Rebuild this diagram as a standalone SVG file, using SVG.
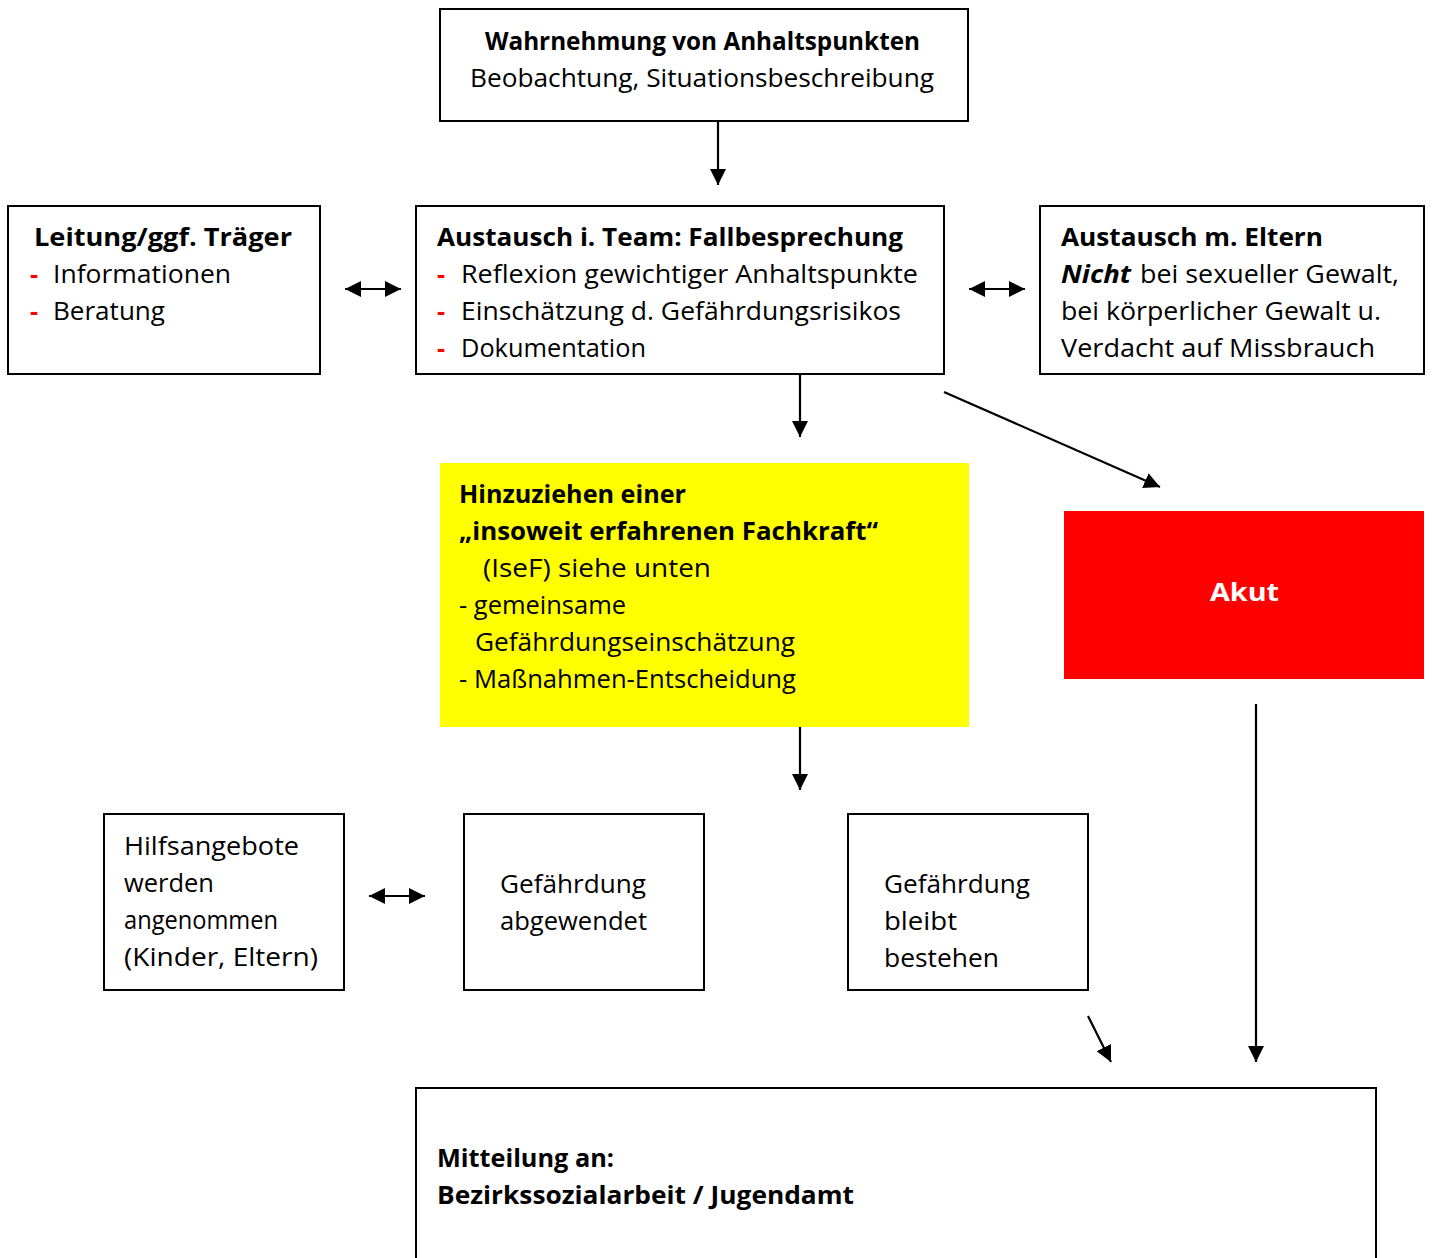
<svg xmlns="http://www.w3.org/2000/svg" width="1433" height="1258" viewBox="0 0 1433 1258">
<style>
.box{fill:#fff;stroke:#000;stroke-width:2}
.t{font-family:"Open Sans","DejaVu Sans",sans-serif;font-size:25px;fill:#000}
.b{font-weight:bold}
.i{font-style:italic}
.r{fill:#ff0000;font-weight:bold}
.w{fill:#fff;font-weight:bold}
.c{stroke:#000;stroke-width:2.2;fill:none;marker-end:url(#ah)}
.d{marker-start:url(#ah)}
</style>
<defs>
<marker id="ah" markerUnits="userSpaceOnUse" markerWidth="18" markerHeight="16" refX="16" refY="8" orient="auto-start-reverse">
<path d="M0,0 L16,8 L0,16 Z" fill="#000"/>
</marker>
</defs>
<rect width="1433" height="1258" fill="#fff"/>
<g id="connectors">
<line class="c" x1="718" y1="121" x2="718" y2="185"/>
<line class="c d" x1="345" y1="289" x2="401" y2="289"/>
<line class="c d" x1="969" y1="289" x2="1025" y2="289"/>
<line class="c" x1="800" y1="374" x2="800" y2="437"/>
<line class="c" x1="944" y1="392" x2="1160" y2="487"/>
<line class="c" x1="800" y1="727" x2="800" y2="790"/>
<line class="c" x1="1256" y1="704" x2="1256" y2="1062"/>
<line class="c d" x1="369" y1="896" x2="425" y2="896"/>
<line class="c" x1="1088" y1="1016" x2="1111" y2="1062"/>
</g>
<g id="wahrnehmung">
<rect class="box" x="440" y="9" width="528" height="112"/>
<text class="t b" x="485" y="50" textLength="435" lengthAdjust="spacingAndGlyphs">Wahrnehmung von Anhaltspunkten</text>
<text class="t" x="470" y="87" textLength="464" lengthAdjust="spacingAndGlyphs">Beobachtung, Situationsbeschreibung</text>
</g>
<g id="leitung">
<rect class="box" x="8" y="206" width="312" height="168"/>
<text class="t b" x="34" y="246" textLength="258" lengthAdjust="spacingAndGlyphs">Leitung/ggf. Träger</text>
<text class="t r" x="30" y="283">-</text>
<text class="t" x="53" y="283" textLength="178" lengthAdjust="spacingAndGlyphs">Informationen</text>
<text class="t r" x="30" y="320">-</text>
<text class="t" x="53" y="320" textLength="112" lengthAdjust="spacingAndGlyphs">Beratung</text>
</g>
<g id="team">
<rect class="box" x="416" y="206" width="528" height="168"/>
<text class="t b" x="437" y="246" textLength="466" lengthAdjust="spacingAndGlyphs">Austausch i. Team: Fallbesprechung</text>
<text class="t r" x="437" y="283">-</text>
<text class="t" x="461" y="283" textLength="457" lengthAdjust="spacingAndGlyphs">Reflexion gewichtiger Anhaltspunkte</text>
<text class="t r" x="437" y="320">-</text>
<text class="t" x="461" y="320" textLength="440" lengthAdjust="spacingAndGlyphs">Einschätzung d. Gefährdungsrisikos</text>
<text class="t r" x="437" y="357">-</text>
<text class="t" x="461" y="357" textLength="185" lengthAdjust="spacingAndGlyphs">Dokumentation</text>
</g>
<g id="eltern">
<rect class="box" x="1040" y="206" width="384" height="168"/>
<text class="t b" x="1061" y="246" textLength="262" lengthAdjust="spacingAndGlyphs">Austausch m. Eltern</text>
<text class="t b i" x="1061" y="283" textLength="70" lengthAdjust="spacingAndGlyphs">Nicht</text>
<text class="t" x="1140" y="283" textLength="259" lengthAdjust="spacingAndGlyphs">bei sexueller Gewalt,</text>
<text class="t" x="1061" y="320" textLength="320" lengthAdjust="spacingAndGlyphs">bei körperlicher Gewalt u.</text>
<text class="t" x="1061" y="357" textLength="314" lengthAdjust="spacingAndGlyphs">Verdacht auf Missbrauch</text>
</g>
<g id="fachkraft">
<rect x="440" y="463" width="529" height="264" fill="#ffff00"/>
<text class="t b" x="459" y="503" textLength="227" lengthAdjust="spacingAndGlyphs">Hinzuziehen einer</text>
<text class="t b" x="459" y="540" textLength="419" lengthAdjust="spacingAndGlyphs">„insoweit erfahrenen Fachkraft“</text>
<text class="t" x="483" y="577" textLength="228" lengthAdjust="spacingAndGlyphs">(IseF) siehe unten</text>
<text class="t" x="459" y="614" textLength="167" lengthAdjust="spacingAndGlyphs">- gemeinsame</text>
<text class="t" x="475" y="651" textLength="320" lengthAdjust="spacingAndGlyphs">Gefährdungseinschätzung</text>
<text class="t" x="459" y="688" textLength="337" lengthAdjust="spacingAndGlyphs">- Maßnahmen-Entscheidung</text>
</g>
<g id="akut">
<rect x="1064" y="511" width="360" height="168" fill="#ff0000"/>
<text class="t w" x="1210" y="601" textLength="69" lengthAdjust="spacingAndGlyphs">Akut</text>
</g>
<g id="hilfsangebote">
<rect class="box" x="104" y="814" width="240" height="176"/>
<text class="t" x="124" y="855" textLength="175" lengthAdjust="spacingAndGlyphs">Hilfsangebote</text>
<text class="t" x="124" y="892" textLength="90" lengthAdjust="spacingAndGlyphs">werden</text>
<text class="t" x="124" y="929" textLength="154" lengthAdjust="spacingAndGlyphs">angenommen</text>
<text class="t" x="124" y="966" textLength="194" lengthAdjust="spacingAndGlyphs">(Kinder, Eltern)</text>
</g>
<g id="abgewendet">
<rect class="box" x="464" y="814" width="240" height="176"/>
<text class="t" x="500" y="893" textLength="146" lengthAdjust="spacingAndGlyphs">Gefährdung</text>
<text class="t" x="500" y="930" textLength="147" lengthAdjust="spacingAndGlyphs">abgewendet</text>
</g>
<g id="bestehen">
<rect class="box" x="848" y="814" width="240" height="176"/>
<text class="t" x="884" y="893" textLength="146" lengthAdjust="spacingAndGlyphs">Gefährdung</text>
<text class="t" x="884" y="930" textLength="73" lengthAdjust="spacingAndGlyphs">bleibt</text>
<text class="t" x="884" y="967" textLength="115" lengthAdjust="spacingAndGlyphs">bestehen</text>
</g>
<g id="mitteilung">
<rect class="box" x="416" y="1088" width="960" height="200"/>
<text class="t b" x="437" y="1167" textLength="177" lengthAdjust="spacingAndGlyphs">Mitteilung an:</text>
<text class="t b" x="437" y="1204" textLength="417" lengthAdjust="spacingAndGlyphs">Bezirkssozialarbeit / Jugendamt</text>
</g>
</svg>
